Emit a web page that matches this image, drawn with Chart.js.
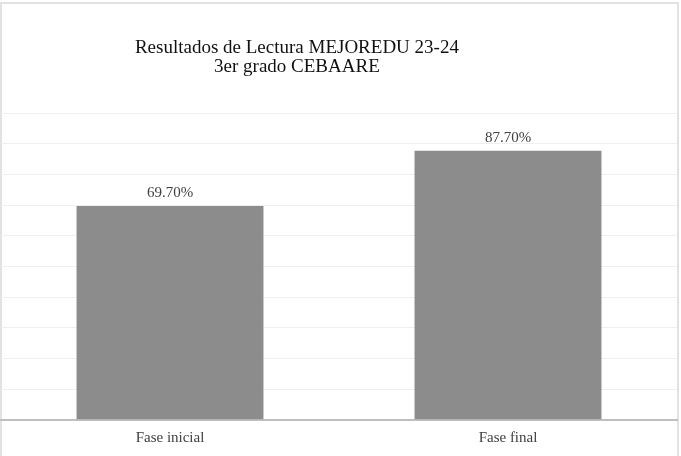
<!DOCTYPE html>
<html>
<head>
<meta charset="utf-8">
<script src="https://cdn.jsdelivr.net/npm/chart.js@4/dist/chart.umd.min.js"></script>
<style>
  html, body { margin: 0; padding: 0; background: #fff; }
  #wrap { position: relative; width: 681px; height: 456px; }
</style>
</head>
<body>
<div id="wrap"><canvas id="chart"></canvas></div>
<script>
// Chart data
const categories = ['Fase inicial', 'Fase final'];
const values = [69.7, 87.7];
const titleLines = ['Resultados de Lectura MEJOREDU 23-24', '3er grado CEBAARE'];
const yMax = 100;
const yStep = 10;

const serif = '"Liberation Serif", "Times New Roman", serif';

// frame around the chart, like the Excel chart border
const framePlugin = {
    id: 'frame',
    beforeDraw(chart) {
        const ctx = chart.ctx;
        ctx.save();
        ctx.fillStyle = '#fff';
        ctx.fillRect(0, 0, chart.width, chart.height);
        ctx.strokeStyle = '#d9d9d9';
        ctx.lineWidth = 1.5;
        ctx.strokeRect(1, 3, chart.width - 4, chart.height + 10);
        ctx.restore();
    }
};

// two-line title, sitting left of centre as in the reference
const titlePlugin = {
    id: 'sideTitle',
    afterDraw(chart) {
        const ctx = chart.ctx;
        ctx.save();
        ctx.font = '19px ' + serif;
        ctx.fillStyle = '#111';
        ctx.textAlign = 'center';
        ctx.textBaseline = 'alphabetic';
        const cx = chart.width * 0.436;
        titleLines.forEach((line, i) => {
            ctx.fillText(line, cx, 53 + i * 19);
        });
        ctx.restore();
    }
};

// value labels above the bars
const labelPlugin = {
    id: 'barLabels',
    afterDatasetsDraw(chart) {
        const ctx = chart.ctx;
        const meta = chart.getDatasetMeta(0);
        ctx.save();
        ctx.font = '15px ' + serif;
        ctx.fillStyle = '#404040';
        ctx.textAlign = 'center';
        ctx.textBaseline = 'middle';
        meta.data.forEach((bar, i) => {
            ctx.fillText(values[i].toFixed(2) + '%', bar.x, bar.y - 13);
        });
        ctx.restore();
    }
};

const ctx = document.getElementById('chart').getContext('2d');
const chart = new Chart(ctx, {
    type: 'bar',
    data: {
        labels: categories,
        datasets: [{
            data: values,
            backgroundColor: '#8c8c8c',
            borderWidth: 0,
            categoryPercentage: 0.553,
            barPercentage: 1
        }]
    },
    options: {
        responsive: true,
        maintainAspectRatio: false,
        animation: false,
        layout: {
            padding: { top: 113, left: 1, right: 4, bottom: 0 }
        },
        plugins: {
            legend: { display: false },
            title: { display: false },
            tooltip: { enabled: false }
        },
        scales: {
            x: {
                grid: { display: false, drawTicks: false },
                border: { color: '#bfbfbf', width: 2 },
                ticks: {
                    color: '#404040',
                    padding: 8,
                    font: { family: serif, size: 15, lineHeight: 1.35 }
                }
            },
            y: {
                min: 0,
                max: yMax,
                grid: { color: '#efefef', lineWidth: 1, drawTicks: false },
                border: { display: false },
                ticks: { display: false, stepSize: yStep }
            }
        }
    },
    plugins: [framePlugin, titlePlugin, labelPlugin]
});
</script>
</body>
</html>
